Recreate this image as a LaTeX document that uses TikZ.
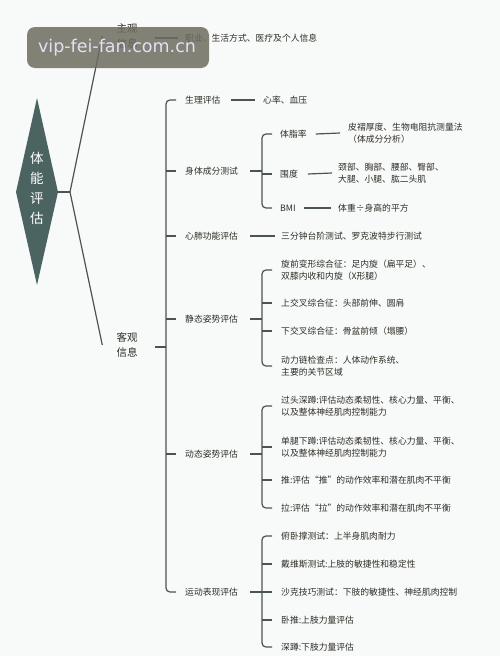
\documentclass[tikz,border=0pt]{standalone}
\usepackage{fontspec}
\setmainfont{Noto Sans CJK SC}
\newfontfamily\wmfont{DejaVu Sans}
\definecolor{bgc}{HTML}{F8F9F9}
\definecolor{txtc}{HTML}{2E2E26}
\definecolor{linec}{HTML}{4A5452}
\definecolor{diamc}{HTML}{4B6462}
\definecolor{wmbg}{HTML}{6E6C5E}
\definecolor{wmtxt}{HTML}{E6DEF6}
\begin{document}
\begin{tikzpicture}[x=1pt,y=-1pt,
  txt/.style={anchor=west, inner sep=0pt, font=\fontsize{8.8}{11.8}\selectfont, text=txtc, align=left},
  big/.style={inner sep=0pt, font=\fontsize{10.5}{14.5}\selectfont, text=txtc, align=center},
  lnk/.style={draw=linec, line width=1.2pt},
  brk/.style={draw=linec, line width=1.2pt, rounded corners=4pt}]
\fill[bgc] (0,0) rectangle (500,656);
\useasboundingbox (0,0) rectangle (500,656);

% root
\fill[diamc] (37,98) -- (58,192) -- (37,285) -- (16,192) -- cycle;
\node[inner sep=0pt, font=\fontsize{13.5}{20}\selectfont, text=white, align=center] (root) at (37,188) {体\\能\\评\\估};
\coordinate (rt) at (58,192);
\coordinate (j) at (70,192);
\coordinate (bus) at (166,0);
\coordinate (bus2) at (262,0);

% level 1
\node[big] (zg) at (127,36) {主观\\信息};
\node[big] (kg) at (127,345) {客观\\信息};
\node[txt] (zgL) at (185,38) {职业、生活方式、医疗及个人信息};

\draw[lnk] (rt) -- (j);
\draw[lnk] (j) -- ([xshift=-14pt]zg.west);
\draw[lnk] (j) -- ([xshift=-14pt]kg.west);
\draw[lnk] ([xshift=17pt,yshift=-2pt]zg.east) -- ([xshift=-7pt]zgL.west);

% level 2
\node[txt] (s1) at (185,100) {生理评估};
\node[txt] (s2) at (185,171) {身体成分测试};
\node[txt] (s3) at (185,236) {心肺功能评估};
\node[txt] (s4) at (185,319) {静态姿势评估};
\node[txt] (s5) at (185,454) {动态姿势评估};
\node[txt] (s6) at (185,592) {运动表现评估};

\draw[brk] ([xshift=-9pt]s1.west) -- (s1.west -| bus) -- (s6.west -| bus) -- ([xshift=-9pt]s6.west);
\foreach \n in {s2,s3,s4,s5}{\draw[lnk] (\n.west -| bus) -- ([xshift=-9pt]\n.west);}
\draw[lnk] ([xshift=17pt,yshift=-2pt]kg.east) -- ([yshift=-2pt]kg.east -| bus);

% s1
\node[txt] (l1) at (263,100) {心率、血压};
\draw[lnk] ([xshift=10pt]s1.east) -- ([xshift=-8pt]l1.west);

% s2
\node[txt] (t1) at (280,134) {体脂率};
\node[txt] (t2) at (280,174) {围度};
\node[txt] (t3) at (280,208) {BMI};
\draw[brk] ([xshift=-8pt]t1.west) -- (t1.west -| bus2) -- (t3.west -| bus2) -- ([xshift=-8pt]t3.west);
\draw[lnk] (t2.west -| bus2) -- ([xshift=-8pt]t2.west);
\draw[lnk] ([xshift=12pt]s2.east) -- (s2.east -| bus2);
\node[txt] (u1) at (348,133) {皮褶厚度、生物电阻抗测量法\\（体成分分析）};
\node[txt] (u2) at (338,173) {颈部、胸部、腰部、臀部、\\大腿、小腿、肱二头肌};
\node[txt] (u3) at (338,208) {体重÷身高的平方};
\draw[lnk] ([xshift=9pt]t1.east) -- ([xshift=-8pt]u1.west);
\draw[lnk] ([xshift=10pt]t2.east) -- ([xshift=-6pt]u2.west);
\draw[lnk] ([xshift=8pt]t3.east) -- ([xshift=-7pt]u3.west);

% s3
\node[txt] (v1) at (281,236) {三分钟台阶测试、罗克波特步行测试};
\draw[lnk] ([xshift=12pt]s3.east) -- ([xshift=-6pt]v1.west);

% s4
\node[txt] (w1) at (281,270) {旋前变形综合征：足内旋（扁平足）、\\双膝内收和内旋（X形腿）};
\node[txt] (w2) at (281,303) {上交叉综合征：头部前伸、圆肩};
\node[txt] (w3) at (281,331) {下交叉综合征：骨盆前倾（塌腰）};
\node[txt] (w4) at (281,366) {动力链检查点：人体动作系统、\\主要的关节区域};
\draw[brk] ([xshift=-9pt]w1.west) -- (w1.west -| bus2) -- (w4.west -| bus2) -- ([xshift=-9pt]w4.west);
\foreach \n in {w2,w3}{\draw[lnk] (\n.west -| bus2) -- ([xshift=-9pt]\n.west);}
\draw[lnk] ([xshift=12pt]s4.east) -- (s4.east -| bus2);

% s5
\node[txt] (x1) at (281,406) {过头深蹲:评估动态柔韧性、核心力量、平衡、\\以及整体神经肌肉控制能力};
\node[txt] (x2) at (281,447) {单腿下蹲:评估动态柔韧性、核心力量、平衡、\\以及整体神经肌肉控制能力};
\node[txt] (x3) at (281,480) {推:评估“推”的动作效率和潜在肌肉不平衡};
\node[txt] (x4) at (281,508) {拉:评估“拉”的动作效率和潜在肌肉不平衡};
\draw[brk] ([xshift=-9pt]x1.west) -- (x1.west -| bus2) -- (x4.west -| bus2) -- ([xshift=-9pt]x4.west);
\foreach \n in {x2,x3}{\draw[lnk] (\n.west -| bus2) -- ([xshift=-9pt]\n.west);}
\draw[lnk] ([xshift=12pt]s5.east) -- (s5.east -| bus2);

% s6
\node[txt] (y1) at (281,536) {俯卧撑测试：上半身肌肉耐力};
\node[txt] (y2) at (281,564) {戴维斯测试:上肢的敏捷性和稳定性};
\node[txt] (y3) at (281,592) {沙克技巧测试：下肢的敏捷性、神经肌肉控制};
\node[txt] (y4) at (281,620) {卧推:上肢力量评估};
\node[txt] (y5) at (281,647) {深蹲:下肢力量评估};
\draw[brk] ([xshift=-9pt]y1.west) -- (y1.west -| bus2) -- (y5.west -| bus2) -- ([xshift=-9pt]y5.west);
\foreach \n in {y2,y3,y4}{\draw[lnk] (\n.west -| bus2) -- ([xshift=-9pt]\n.west);}
\draw[lnk] ([xshift=12pt]s6.east) -- (s6.east -| bus2);

% watermark
\fill[wmbg, opacity=0.85, rounded corners=8pt] (27,27) rectangle (209,68);
\node[inner sep=0pt, text=wmtxt, font=\wmfont\fontsize{17.5}{19}\selectfont] (wm) at (117,48) {vip-fei-fan.com.cn};
\end{tikzpicture}
\end{document}
